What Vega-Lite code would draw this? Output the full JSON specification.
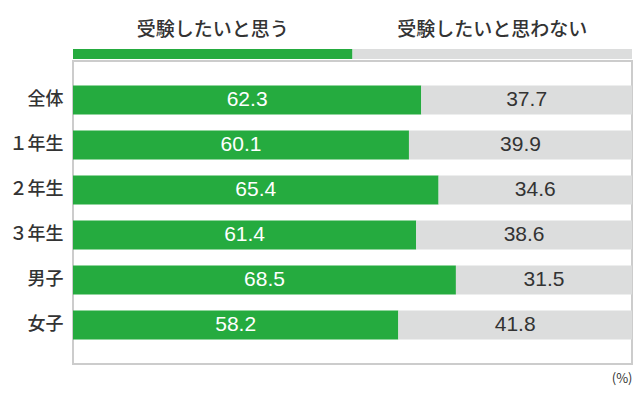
{
  "$schema": "https://vega.github.io/schema/vega-lite/v6.json",
  "padding": {"left": 8, "top": 21, "right": 0, "bottom": 0},
  "spacing": 1,
  "background": "#ffffff",
  "config": {"font": "Noto Sans CJK JP"},
  "datasets": {
    "legend": [
      {"answer": "受験したいと思う", "share": 50},
      {"answer": "受験したいと思わない", "share": 50}
    ],
    "survey": [
      {"group": "全体", "answer": "受験したいと思う", "value": 62.3},
      {"group": "全体", "answer": "受験したいと思わない", "value": 37.7},
      {"group": "１年生", "answer": "受験したいと思う", "value": 60.1},
      {"group": "１年生", "answer": "受験したいと思わない", "value": 39.9},
      {"group": "２年生", "answer": "受験したいと思う", "value": 65.4},
      {"group": "２年生", "answer": "受験したいと思わない", "value": 34.6},
      {"group": "３年生", "answer": "受験したいと思う", "value": 61.4},
      {"group": "３年生", "answer": "受験したいと思わない", "value": 38.6},
      {"group": "男子", "answer": "受験したいと思う", "value": 68.5},
      {"group": "男子", "answer": "受験したいと思わない", "value": 31.5},
      {"group": "女子", "answer": "受験したいと思う", "value": 58.2},
      {"group": "女子", "answer": "受験したいと思わない", "value": 41.8}
    ]
  },
  "vconcat": [
    {
      "width": 559,
      "height": 10,
      "view": {"stroke": null},
      "data": {"name": "legend"},
      "transform": [
        {"stack": "share", "groupby": [], "sort": [{"field": "answer", "order": "ascending"}], "as": ["s0", "s1"]},
        {"calculate": "(datum.s0 + datum.s1) / 2", "as": "mid"}
      ],
      "encoding": {
        "y": {"datum": "legend", "type": "nominal", "scale": {"paddingInner": 0, "paddingOuter": 0}, "axis": null}
      },
      "layer": [
        {
          "mark": {"type": "bar"},
          "encoding": {
            "x": {"field": "s0", "type": "quantitative", "scale": {"domain": [0, 100]}, "axis": null},
            "x2": {"field": "s1"},
            "color": {"field": "answer", "type": "nominal", "scale": {"domain": ["受験したいと思う", "受験したいと思わない"], "range": ["#25ab3f", "#dcdddd"]}, "legend": null}
          }
        },
        {
          "mark": {"type": "text", "dy": -24, "fontSize": 19, "fontWeight": 500, "color": "#333333"},
          "encoding": {
            "x": {"field": "mid", "type": "quantitative", "scale": {"domain": [0, 100]}},
            "text": {"field": "answer"}
          }
        }
      ]
    },
    {
      "width": 559,
      "height": 303,
      "view": {"stroke": "#cccccc", "strokeWidth": 2},
      "data": {"name": "survey"},
      "transform": [
        {"stack": "value", "groupby": ["group"], "sort": [{"field": "answer", "order": "ascending"}], "as": ["v0", "v1"]},
        {"calculate": "(datum.v0 + datum.v1) / 2", "as": "mid"}
      ],
      "encoding": {
        "y": {
          "field": "group", "type": "nominal", "sort": null,
          "scale": {"paddingInner": 0.356, "paddingOuter": 0.545},
          "axis": {"title": null, "domain": false, "ticks": false, "labelFontSize": 18, "labelFontWeight": 500, "labelColor": "#333333", "labelPadding": 10, "labelFont": "Noto Sans CJK JP"}
        }
      },
      "layer": [
        {
          "mark": {"type": "bar"},
          "encoding": {
            "x": {"field": "v0", "type": "quantitative", "scale": {"domain": [0, 100]},
              "axis": {"title": "(%)", "labels": false, "ticks": false, "domain": false, "grid": false, "titleAnchor": "end", "titleAlign": "right", "titleFontSize": 13, "titleFontWeight": "normal", "titleColor": "#333333", "titlePadding": 8, "titleFont": "Noto Sans CJK JP"}},
            "x2": {"field": "v1"},
            "color": {"field": "answer", "type": "nominal", "scale": {"domain": ["受験したいと思う", "受験したいと思わない"], "range": ["#25ab3f", "#dcdddd"]}, "legend": null}
          }
        },
        {
          "mark": {"type": "text", "fontSize": 21, "font": "Liberation Sans"},
          "encoding": {
            "x": {"field": "mid", "type": "quantitative"},
            "text": {"field": "value", "type": "quantitative", "format": ".1f"},
            "color": {"condition": {"test": "datum.answer === '受験したいと思う'", "value": "#ffffff"}, "value": "#333333"}
          }
        }
      ]
    }
  ]
}
